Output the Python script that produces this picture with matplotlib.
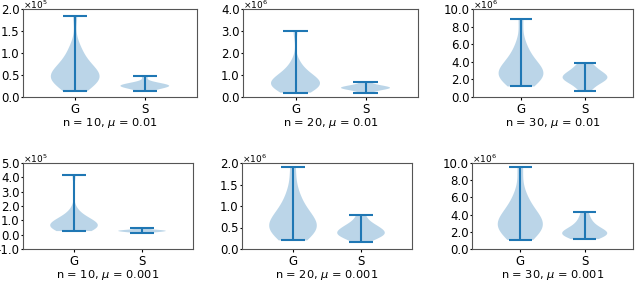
import numpy as np
import matplotlib
matplotlib.use("Agg")
import matplotlib.pyplot as plt
from matplotlib.ticker import ScalarFormatter

plt.rcParams["axes.unicode_minus"] = False

# samples (scaled by the panel's power of ten)
g_10_01 = [0.13, 0.20, 0.28, 0.33, 0.37, 0.40, 0.42, 0.44, 0.46, 0.49, 0.52, 0.56,
           0.60, 0.66, 0.72, 0.80, 0.90, 1.02, 1.18, 1.85]
s_10_01 = [0.13, 0.18, 0.21, 0.23, 0.24, 0.25, 0.26, 0.27, 0.28, 0.30, 0.33, 0.48]
g_20_01 = [0.20, 0.30, 0.38, 0.45, 0.50, 0.55, 0.58, 0.61, 0.64, 0.68, 0.72, 0.78,
           0.85, 0.95, 1.10, 1.30, 1.55, 3.00]
s_20_01 = [0.20, 0.30, 0.35, 0.38, 0.40, 0.42, 0.44, 0.47, 0.50, 0.55, 0.68]
g_30_01 = [1.2, 1.5, 1.9, 2.2, 2.4, 2.5, 2.6, 2.8, 3.0, 3.3, 3.6, 4.0, 4.5, 5.2,
           6.2, 8.9]
s_30_01 = [0.7, 1.3, 1.7, 1.9, 2.1, 2.2, 2.3, 2.5, 2.7, 3.0, 3.4, 3.9]

g_10_001 = [0.25, 0.35, 0.42, 0.48, 0.52, 0.55, 0.58, 0.60, 0.62, 0.64, 0.67, 0.70,
            0.75, 0.80, 0.88, 1.00, 1.15, 1.35, 1.65, 4.15]
s_10_001 = [0.15, 0.20, 0.24, 0.26, 0.28, 0.30, 0.33, 0.48]
g_20_001 = [0.20, 0.28, 0.36, 0.42, 0.47, 0.50, 0.54, 0.58, 0.63, 0.70, 0.78, 0.88,
            1.00, 1.15, 1.40, 1.90]
s_20_001 = [0.17, 0.26, 0.30, 0.33, 0.35, 0.38, 0.42, 0.46, 0.50, 0.55, 0.62, 0.78]
g_30_001 = [1.05, 1.6, 2.0, 2.3, 2.6, 2.8, 3.0, 3.3, 3.6, 4.0, 4.6, 5.4, 6.5, 9.5]
s_30_001 = [1.15, 1.4, 1.6, 1.7, 1.8, 1.9, 2.0, 2.2, 2.5, 2.9, 3.4, 4.25]

g_data = [g_10_01, g_20_01, g_30_01, g_10_001, g_20_001, g_30_001]
s_data = [s_10_01, s_20_01, s_30_01, s_10_001, s_20_001, s_30_001]
powers = [5, 6, 6, 5, 6, 6]
titles = ["n = 10, $\\mu$ = 0.01", "n = 20, $\\mu$ = 0.01", "n = 30, $\\mu$ = 0.01",
          "n = 10, $\\mu$ = 0.001", "n = 20, $\\mu$ = 0.001", "n = 30, $\\mu$ = 0.001"]
yticks = [np.arange(0, 2.01, 0.5), np.arange(0, 4.01, 1.0), np.arange(0, 10.01, 2.0),
          np.arange(-1, 5.01, 1.0), np.arange(0, 2.01, 0.5), np.arange(0, 10.01, 2.0)]
labels = ["G", "S"]

# axes boxes in pixels (left, top, right, bottom)
boxes = [(23, 9, 197, 97), (243, 9, 418, 97), (473, 9, 633, 97),
         (23, 163, 193, 249), (242, 163, 412, 249), (472, 163, 633, 249)]


class FixedSci(ScalarFormatter):
    def __init__(self, order):
        super().__init__(useMathText=True, useOffset=False)
        self.fixed = order

    def _set_order_of_magnitude(self):
        self.orderOfMagnitude = self.fixed

    def _set_format(self):
        self.format = "%.1f"


fig = plt.figure(figsize=(6.4, 2.95), dpi=100)
W, H = 640, 295

for i in range(6):
    l, t, r, b = boxes[i]
    ax = fig.add_axes([l / W, 1 - b / H, (r - l) / W, (b - t) / H])
    sc = 10.0 ** powers[i]
    data = [np.array(g_data[i]) * sc, np.array(s_data[i]) * sc]
    ax.violinplot(data, positions=[1, 2], widths=0.7)
    ax.set_xlim(0.25, 2.75)
    ax.set_xticks([1, 2])
    ax.set_xticklabels(labels)
    ax.set_yticks(yticks[i] * sc)
    ax.set_ylim(yticks[i][0] * sc, yticks[i][-1] * sc)
    ax.yaxis.set_major_formatter(FixedSci(powers[i]))
    ax.yaxis.OFFSETTEXTPAD = 0
    ax.yaxis.get_offset_text().set_fontsize(6.5)
    ax.tick_params(labelsize=8.5)
    ax.tick_params(axis="y", length=1.5, pad=1)
    ax.tick_params(axis="x", length=2, pad=2)
    ax.set_xlabel(titles[i], fontsize=8.2, labelpad=0)
    for sp in ax.spines.values():
        sp.set_color("#555555")

fig.savefig("out.png", dpi=100)
